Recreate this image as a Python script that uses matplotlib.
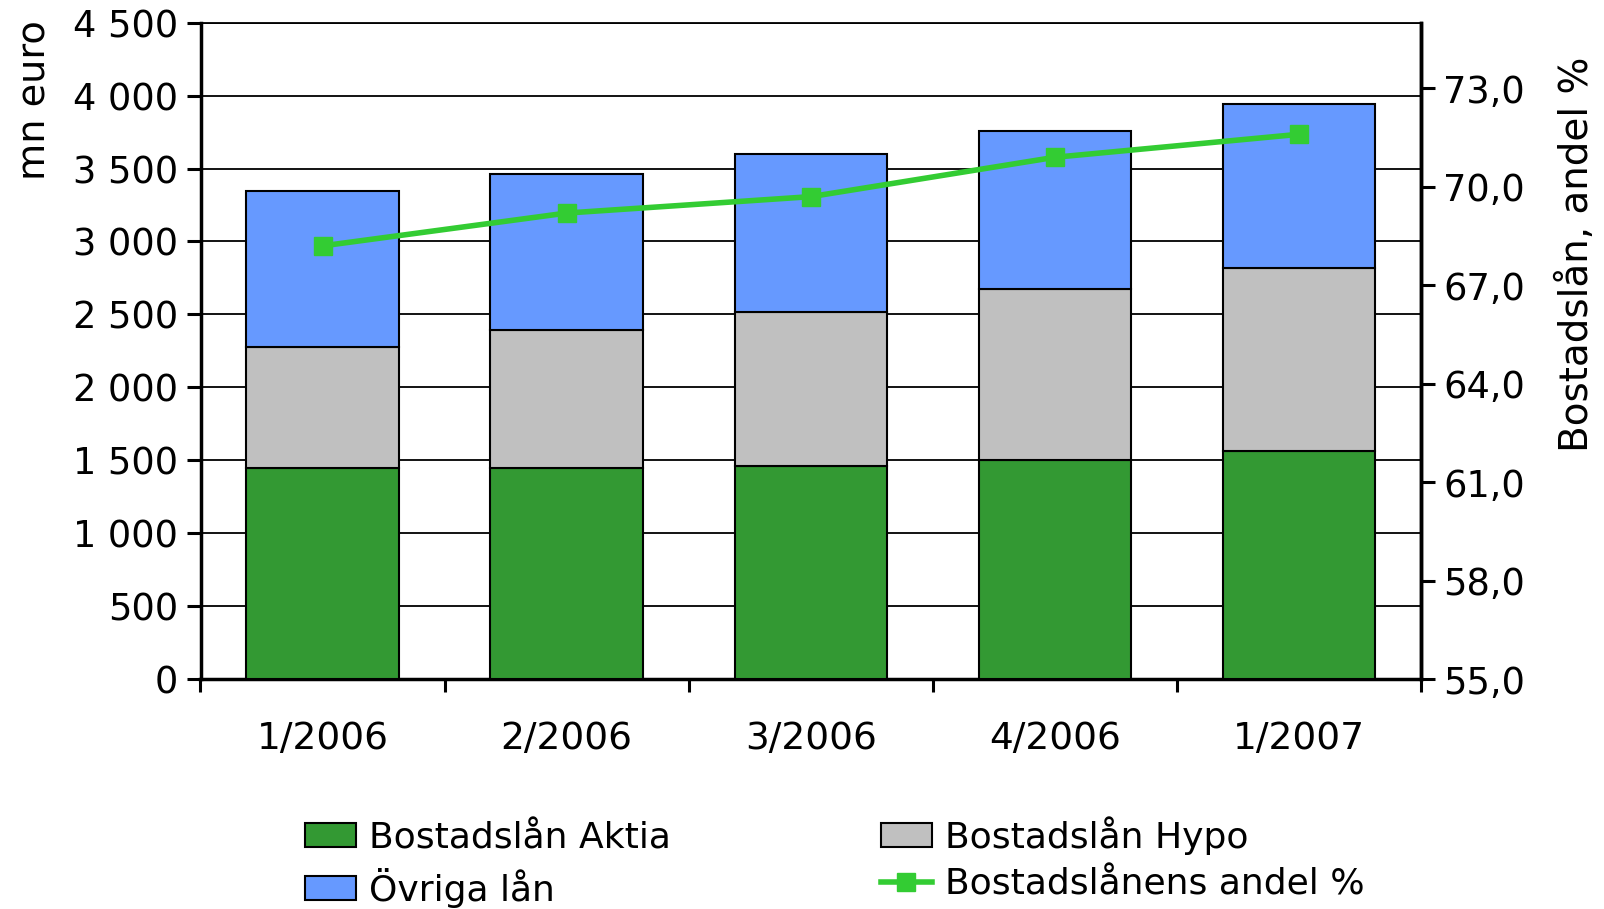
import numpy as np
import matplotlib
matplotlib.use("Agg")
from matplotlib import pyplot as plt
from matplotlib.patches import Patch
from matplotlib.lines import Line2D
from matplotlib.ticker import FixedLocator, FuncFormatter

quarters = ["1/2006", "2/2006", "3/2006", "4/2006", "1/2007"]
aktia = [1445, 1448, 1458, 1500, 1563]
hypo = [833, 942, 1058, 1171, 1255]
ovriga = [1065, 1073, 1087, 1086, 1122]
andel = [68.2, 69.2, 69.7, 70.9, 71.6]

green = "#339933"
grey = "#C0C0C0"
blue = "#6699FF"
line_green = "#33CC33"

fig = plt.figure(figsize=(16.04, 9.09), dpi=100)
ax = fig.add_axes([0.125, 0.253, 0.761, 0.722])
x = np.arange(len(quarters))
w = 0.625

ax.bar(x, aktia, w, color=green, edgecolor="black", linewidth=1.5, zorder=3)
ax.bar(x, hypo, w, bottom=aktia, color=grey, edgecolor="black", linewidth=1.5, zorder=3)
bottom2 = [a + h for a, h in zip(aktia, hypo)]
ax.bar(x, ovriga, w, bottom=bottom2, color=blue, edgecolor="black", linewidth=1.5, zorder=3)

ax.set_xlim(-0.5, len(quarters) - 0.5)
ax.set_ylim(0, 4500)
ax.set_yticks(range(0, 4501, 500))
ax.yaxis.set_major_formatter(FuncFormatter(lambda v, p: f"{int(v):,}".replace(",", " ")))
ax.grid(axis="y", color="black", linewidth=1.3, zorder=0)
ax.set_xticks(x)
ax.set_xticklabels(quarters)
ax.xaxis.set_minor_locator(FixedLocator(np.arange(-0.5, len(quarters), 1.0)))
ax.tick_params(axis="x", which="major", length=0, pad=30, labelsize=27)
ax.tick_params(axis="x", which="minor", length=9, width=2.2, direction="out")
ax.tick_params(axis="y", length=10, width=2.2, labelsize=26.5, pad=6)
for s in ["left", "bottom", "right"]:
    ax.spines[s].set_linewidth(2.5)
ax.spines["top"].set_linewidth(1.3)

ax2 = ax.twinx()
ax2.plot(x, andel, color=line_green, linewidth=4, marker="s", markersize=13, zorder=5)
ax2.set_ylim(55, 75)
ax2.set_yticks(np.arange(55, 74, 3))
ax2.yaxis.set_major_formatter(FuncFormatter(lambda v, p: f"{v:.1f}".replace(".", ",")))
ax2.tick_params(axis="y", length=10, width=2.2, labelsize=26.5, pad=6)
ax2.spines["right"].set_linewidth(2.5)
for s in ["left", "bottom", "top"]:
    ax2.spines[s].set_visible(False)

fig.text(0.011, 0.978, "mn euro", rotation=90, fontsize=27.5, va="top", ha="left")
fig.text(0.983, 0.72, "Bostadslån, andel %", rotation=90, fontsize=28,
         va="center", ha="center")

h_aktia = Patch(facecolor=green, edgecolor="black", linewidth=1.5)
h_ovriga = Patch(facecolor=blue, edgecolor="black", linewidth=1.5)
h_hypo = Patch(facecolor=grey, edgecolor="black", linewidth=1.5)
h_andel = Line2D([], [], color=line_green, linewidth=4, marker="s", markersize=13)

fig.legend([h_aktia, h_ovriga, h_hypo, h_andel],
           ["Bostadslån Aktia", "Övriga lån", "Bostadslån Hypo", "Bostadslånens andel %"],
           loc="upper left", bbox_to_anchor=(0.19, 0.102), ncol=2, frameon=False,
           fontsize=26, handlelength=1.42, handleheight=0.63, handletextpad=0.37,
           labelspacing=0.35, columnspacing=5.8, borderpad=0, borderaxespad=0)

fig.savefig("out.png", dpi=100)
